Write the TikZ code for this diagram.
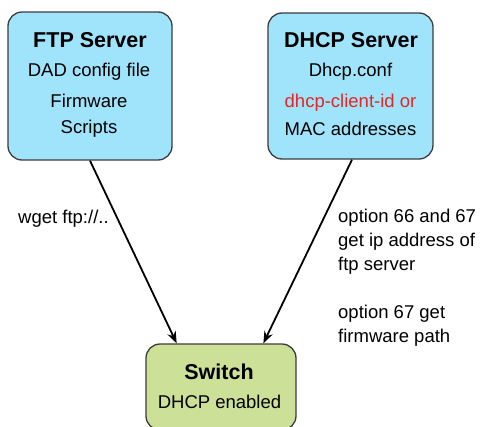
\documentclass[tikz,border=0pt]{standalone}
\usepackage{fontspec}
\setmainfont{Liberation Sans}
\usetikzlibrary{arrows.meta,calc}
\definecolor{boxblue}{RGB}{160,228,252}
\definecolor{boxgreen}{RGB}{205,224,152}
\definecolor{edgegray}{RGB}{60,60,60}
\definecolor{redtext}{RGB}{228,38,38}
\begin{document}
\begin{tikzpicture}[x=1pt,y=-1pt,
 box/.style={draw=edgegray, line width=1.3pt, rounded corners=14pt, inner sep=0pt},
 title/.style={font=\fontsize{21.5}{25}\selectfont\bfseries, anchor=base, inner sep=0pt},
 body/.style={font=\fontsize{18.5}{24}\selectfont, anchor=base, inner sep=0pt},
 lbl/.style={font=\fontsize{18.5}{24}\selectfont, anchor=base west, inner sep=0pt},
 arr/.style={-{Stealth[length=12pt,width=9pt]}, line width=1.8pt, black}]
\useasboundingbox (0,0) rectangle (482,426);
\node[box, fill=boxblue, minimum width=164pt, minimum height=148pt] (ftp) at (90,86) {};
\node[box, fill=boxblue, minimum width=165pt, minimum height=146pt] (dhcp) at (350.5,86) {};
\node[box, fill=boxgreen, minimum width=150pt, minimum height=86pt] (sw) at (221,387) {};
\node[title] (ftpt) at (90,47) {FTP Server};
\node[body] (ftp1) at (89,76) {DAD config file};
\node[body] (ftp2) at (89,107) {Firmware};
\node[body] (ftp3) at (89,133) {Scripts};
\node[title] (dhcpt) at (351,47) {DHCP Server};
\node[body] (dhcp1) at (350.5,76) {Dhcp.conf};
\node[body, text=redtext] (dhcp2) at (350.5,107) {dhcp-client-id or};
\node[body] (dhcp3) at (350.5,135) {MAC addresses};
\node[title] (swt) at (219,379) {Switch};
\node[body] (sw1) at (219.5,408) {DHCP enabled};
\draw[arr] (ftp.south) -- ($(sw.north west)!0.207!(sw.north east)$);
\draw[arr] ($(dhcp.south)+(1.5,0)$) -- ($(sw.north west)!0.78!(sw.north east)$);
\node[lbl] (wget) at (18,223) {wget ftp://..};
\node[lbl] (opts) at (338,222) {\begin{tabular}[t]{@{}l@{}}option 66 and 67\\get ip address of\\ftp server\\[24pt]option 67 get\\firmware path\end{tabular}};
\end{tikzpicture}
\end{document}
